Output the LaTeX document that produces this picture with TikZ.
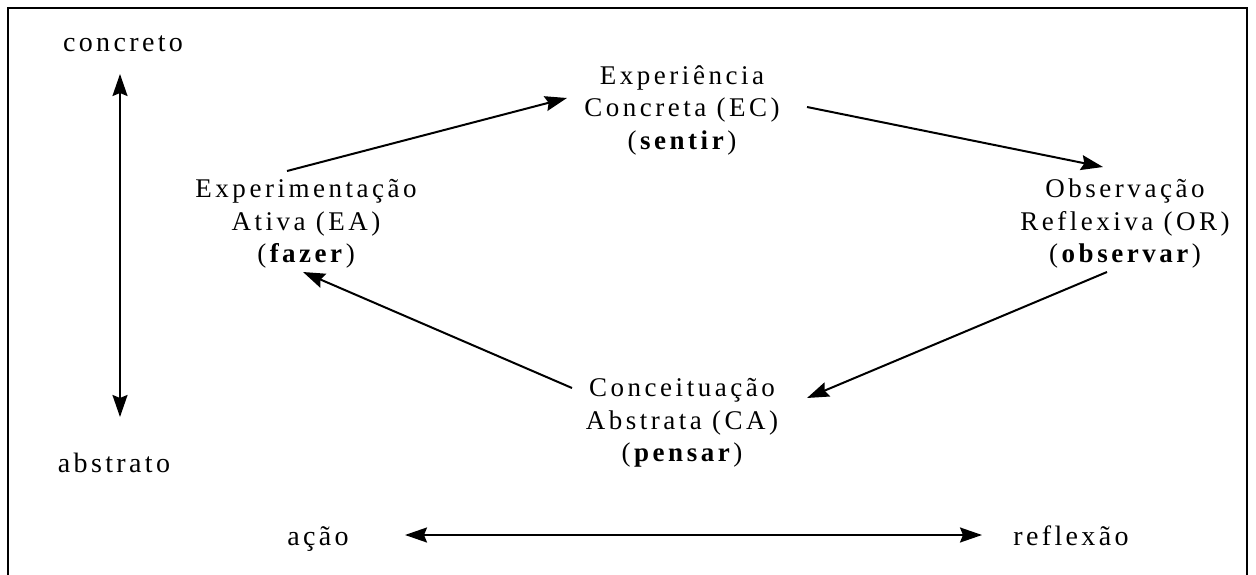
\documentclass[tikz,border=0pt]{standalone}
\usepackage{fontspec}
\setmainfont{Liberation Serif}
\newfontfamily\lblfont{Liberation Serif}[LetterSpace=12]
\newfontfamily\stagefont{Liberation Serif}[LetterSpace=13]
\usetikzlibrary{arrows.meta,calc}
\begin{document}
\begin{tikzpicture}[x=1pt,y=-1pt,
  lbl/.style={inner sep=0pt,font=\lblfont\fontsize{28}{32}\selectfont},
  stage/.style={inner sep=0pt,align=center,font=\stagefont\fontsize{27}{32.5}\selectfont},
  conn/.style={line width=2pt,-{Stealth[length=22pt,width=15pt,inset=3pt]}},
  both/.style={line width=2pt,{Stealth[length=22pt,width=15pt,inset=3pt]}-{Stealth[length=22pt,width=15pt,inset=3pt]}}]
\useasboundingbox (0,0) rectangle (1256,575);
\draw[line width=2.5pt] (8,576) -- (8,8) -- (1247,8) -- (1247,576);
% axis labels
\node[lbl,anchor=base] (concreto) at (123,52) {concreto};
\node[lbl,anchor=base] (abstrato) at (114,472) {abstrato};
\node[lbl,anchor=base] (acao) at (318,545) {ação};
\node[lbl,anchor=base] (reflexao) at (1071,545) {reflexão};
% stages
\node[stage] (ec) at (682,110) {Experiência\\Concreta (EC)\\(\textbf{sentir})};
\node[stage] (ea) at (306,224) {Experimentação\\Ativa (EA)\\(\textbf{fazer})};
\node[stage] (or) at (1125,224) {Observação\\Reflexiva (OR)\\(\textbf{observar})};
\node[stage] (ca) at (682,423) {Conceituação\\Abstrata (CA)\\(\textbf{pensar})};
% axes arrows
\draw[both] ($(concreto.base)+(-3,22)$) -- ($(abstrato.base)+(6,-55)$);
\draw[both] ($(acao.base)+(87,-10)$) -- ($(reflexao.base)+(-89,-10)$);
% cycle arrows
\draw[conn] ($(ea)+(-19,-53)$) -- ($(ec)+(-115,-12)$);
\draw[conn] ($(ec)+(125,-3)$) -- ($(or)+(-22,-57)$);
\draw[conn] ($(or)+(-18,48)$) -- ($(ca)+(125,-25)$);
\draw[conn] ($(ca)+(-110,-35)$) -- ($(ea)+(-3,48)$);
\end{tikzpicture}
\end{document}
